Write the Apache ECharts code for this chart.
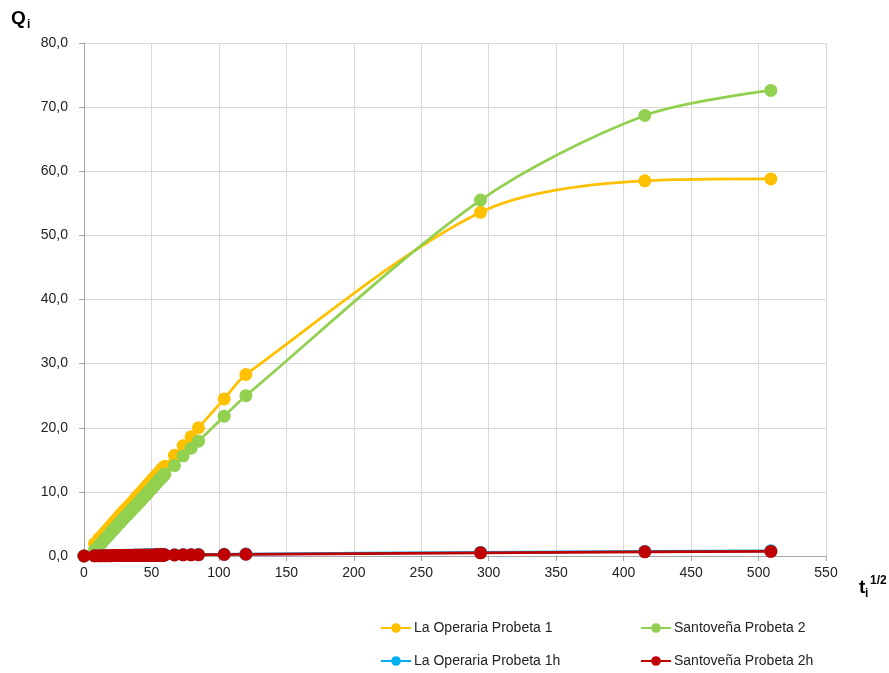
<!DOCTYPE html>
<html>
<head>
<meta charset="utf-8">
<script src="https://cdn.jsdelivr.net/npm/echarts@6/dist/echarts.min.js"></script>
<style>html,body{margin:0;padding:0;background:#fff}#c{width:889px;height:673px}</style>
</head>
<body>
<div id="c"></div>
<script>
// t^(1/2) values (sqrt of seconds)
var xVals = [0, 7.75, 10.95, 13.42, 15.49, 17.32, 18.97, 20.49, 21.91, 23.24, 24.49,
  25.69, 26.83, 27.93, 28.98, 30.00, 30.98, 31.94, 32.86, 33.76, 34.64,
  35.50, 36.33, 37.15, 37.95, 38.73, 39.50, 40.25, 40.99, 41.71, 42.43,
  43.13, 43.82, 44.50, 45.17, 45.83, 46.48, 47.12, 47.75, 48.37, 48.99,
  49.60, 50.20, 50.79, 51.38, 51.96, 52.54, 53.10, 53.67, 54.22, 54.77,
  55.32, 55.86, 56.39, 56.92, 57.45, 57.97, 58.48, 58.99, 59.50, 60.00,
  67.08, 73.48, 79.37, 84.85, 103.92, 120.00, 293.94, 415.69, 509.12];

var laOperaria1 = [0, 1.9, 2.7, 3.2, 3.7, 4.1, 4.5, 4.9, 5.2, 5.5, 5.8,
  6.1, 6.4, 6.6, 6.9, 7.1, 7.3, 7.5, 7.7, 7.9, 8.1,
  8.3, 8.5, 8.7, 8.9, 9.1, 9.3, 9.4, 9.6, 9.8, 9.9,
  10.1, 10.3, 10.4, 10.6, 10.7, 10.9, 11.0, 11.2, 11.3, 11.5,
  11.6, 11.8, 11.9, 12.0, 12.2, 12.3, 12.4, 12.6, 12.7, 12.8,
  13.0, 13.1, 13.2, 13.3, 13.5, 13.6, 13.7, 13.8, 13.9, 14.0,
  15.7, 17.2, 18.6, 20.0, 24.5, 28.3, 53.6, 58.5, 58.8];

var santovena2 = [0, 0.9, 1.6, 2.1, 2.6, 3.0, 3.4, 3.8, 4.1, 4.4, 4.7,
  5.0, 5.2, 5.5, 5.7, 6.0, 6.2, 6.4, 6.6, 6.8, 7.0,
  7.2, 7.4, 7.6, 7.7, 7.9, 8.1, 8.3, 8.4, 8.6, 8.8,
  8.9, 9.1, 9.2, 9.4, 9.5, 9.7, 9.8, 10.0, 10.1, 10.3,
  10.4, 10.5, 10.7, 10.8, 11.0, 11.1, 11.2, 11.4, 11.5, 11.6,
  11.7, 11.9, 12.0, 12.1, 12.2, 12.3, 12.5, 12.6, 12.7, 12.8,
  14.1, 15.6, 16.8, 17.9, 21.8, 25.0, 55.5, 68.7, 72.6];

var laOperaria1h = [0, 0.03, 0.04, 0.05, 0.05, 0.06, 0.06, 0.07, 0.07, 0.08, 0.08,
  0.08, 0.09, 0.09, 0.09, 0.10, 0.10, 0.10, 0.10, 0.11, 0.11,
  0.11, 0.11, 0.12, 0.12, 0.12, 0.12, 0.12, 0.13, 0.13, 0.13,
  0.13, 0.13, 0.14, 0.14, 0.14, 0.14, 0.14, 0.14, 0.15, 0.15,
  0.15, 0.15, 0.15, 0.15, 0.16, 0.16, 0.16, 0.16, 0.16, 0.16,
  0.17, 0.17, 0.17, 0.17, 0.17, 0.17, 0.18, 0.18, 0.18, 0.18,
  0.19, 0.20, 0.21, 0.22, 0.26, 0.30, 0.56, 0.72, 0.80];

var santovena2h = [0, 0.02, 0.03, 0.04, 0.04, 0.05, 0.05, 0.05, 0.06, 0.06, 0.06,
  0.07, 0.07, 0.07, 0.07, 0.08, 0.08, 0.08, 0.08, 0.09, 0.09,
  0.09, 0.09, 0.10, 0.10, 0.10, 0.10, 0.10, 0.11, 0.11, 0.11,
  0.11, 0.11, 0.11, 0.12, 0.12, 0.12, 0.12, 0.12, 0.12, 0.13,
  0.13, 0.13, 0.13, 0.13, 0.13, 0.14, 0.14, 0.14, 0.14, 0.14,
  0.14, 0.15, 0.15, 0.15, 0.15, 0.15, 0.15, 0.16, 0.16, 0.16,
  0.17, 0.18, 0.19, 0.20, 0.23, 0.27, 0.50, 0.65, 0.72];

var seriesNames = ['La Operaria Probeta 1', 'Santoveña Probeta 2', 'La Operaria Probeta 1h', 'Santoveña Probeta 2h'];
var seriesColors = ['#FFC000', '#92D050', '#00B0F0', '#C00000'];
var seriesData = [laOperaria1, santovena2, laOperaria1h, santovena2h];

function pairs(ys) { return xVals.map(function (x, i) { return [x, ys[i]]; }); }

var font = 'Liberation Sans, Arial, sans-serif';
var textColor = '#222222';
var legendPos = [[375, 616], [635, 616], [375, 649], [635, 649]];
var chart = echarts.init(document.getElementById('c'), null, { renderer: 'canvas' });
chart.setOption({
  animation: false,
  backgroundColor: '#ffffff',
  textStyle: { fontFamily: font },
  grid: { left: 84, right: 63, top: 43, bottom: 117, containLabel: false },
  xAxis: {
    type: 'value', min: 0, max: 550, interval: 50,
    axisLine: { show: true, lineStyle: { color: '#A6A6A6', width: 1 } },
    axisTick: { show: true, length: 5, lineStyle: { color: '#A6A6A6' } },
    splitLine: { show: true, lineStyle: { color: '#D9D9D9', width: 1 } },
    axisLabel: { color: textColor, fontSize: 14, fontFamily: font, margin: 10 }
  },
  yAxis: {
    type: 'value', min: 0, max: 80, interval: 10,
    axisLine: { show: true, lineStyle: { color: '#A6A6A6', width: 1 } },
    axisTick: { show: true, length: 5, lineStyle: { color: '#A6A6A6' } },
    splitLine: { show: true, lineStyle: { color: '#D9D9D9', width: 1 } },
    axisLabel: { color: textColor, fontSize: 14, fontFamily: font, margin: 16,
      formatter: function (v) { return v.toFixed(1).replace('.', ','); } }
  },
  legend: seriesNames.map(function (n, i) {
    return { orient: 'horizontal', left: legendPos[i][0], top: legendPos[i][1],
      itemWidth: 30, itemHeight: 12, data: [n],
      textStyle: { fontSize: 14, color: textColor, fontFamily: font, padding: [0, 0, 0, -2] } };
  }),
  series: seriesNames.map(function (n, i) {
    return {
      name: n, type: 'line', data: pairs(seriesData[i]),
      smooth: 0.3, symbol: 'circle', symbolSize: 13, showSymbol: true,
      lineStyle: { color: seriesColors[i], width: 2.75 },
      itemStyle: { color: seriesColors[i] },
      emphasis: { disabled: true }
    };
  }),
  graphic: [
    { type: 'text', left: 11, top: 9, style: { text: 'Q', font: 'bold 19px ' + font, fill: '#000' } },
    { type: 'text', left: 27, top: 19, style: { text: 'i', font: 'bold 12px ' + font, fill: '#000' } },
    { type: 'text', left: 859, top: 578, style: { text: 't', font: 'bold 19px ' + font, fill: '#000' } },
    { type: 'text', left: 865, top: 588, style: { text: 'i', font: 'bold 12px ' + font, fill: '#000' } },
    { type: 'text', left: 870, top: 575, style: { text: '1/2', font: 'bold 12px ' + font, fill: '#000' } }
  ]
});
</script>
</body>
</html>
